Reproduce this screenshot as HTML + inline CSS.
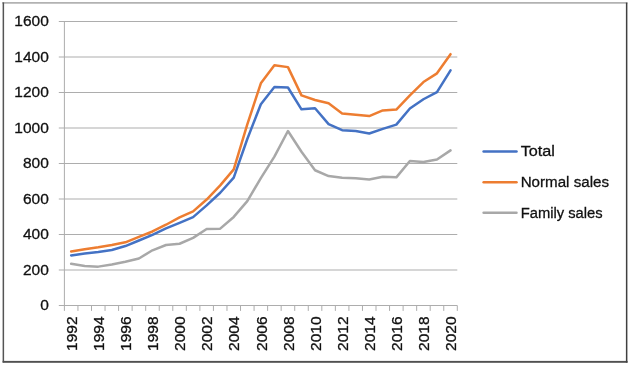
<!DOCTYPE html>
<html><head><meta charset="utf-8"><title>Chart</title>
<style>
html,body{margin:0;padding:0;background:#fff;}
body{width:630px;height:365px;overflow:hidden;}
svg{display:block;}
text{font-family:"Liberation Sans",sans-serif;font-size:15.5px;fill:#111;stroke:#111;stroke-width:0.3px;}
</style></head><body>
<svg width="630" height="365" viewBox="0 0 630 365">
<rect x="0" y="0" width="630" height="365" fill="#fff"/>

<rect x="2.2" y="2.2" width="625.3" height="1.4" fill="#a0a0a0"/>
<rect x="2.6" y="2.4" width="1.5" height="360" fill="#555"/>
<rect x="2.6" y="360.9" width="625" height="1.9" fill="#505050"/>
<rect x="625.9" y="2.6" width="1.5" height="360" fill="#404040"/>
<line x1="58.80" y1="305.50" x2="457.30" y2="305.50" stroke="#adadad" stroke-width="1"/>
<line x1="58.80" y1="270.00" x2="457.30" y2="270.00" stroke="#adadad" stroke-width="1"/>
<line x1="58.80" y1="234.50" x2="457.30" y2="234.50" stroke="#adadad" stroke-width="1"/>
<line x1="58.80" y1="199.00" x2="457.30" y2="199.00" stroke="#adadad" stroke-width="1"/>
<line x1="58.80" y1="163.50" x2="457.30" y2="163.50" stroke="#adadad" stroke-width="1"/>
<line x1="58.80" y1="128.00" x2="457.30" y2="128.00" stroke="#adadad" stroke-width="1"/>
<line x1="58.80" y1="92.50" x2="457.30" y2="92.50" stroke="#adadad" stroke-width="1"/>
<line x1="58.80" y1="57.00" x2="457.30" y2="57.00" stroke="#adadad" stroke-width="1"/>
<line x1="58.80" y1="21.50" x2="457.30" y2="21.50" stroke="#adadad" stroke-width="1"/>
<line x1="64.40" y1="21.50" x2="64.40" y2="305.50" stroke="#adadad" stroke-width="1"/>
<line x1="64.40" y1="305.50" x2="64.40" y2="310.90" stroke="#adadad" stroke-width="1"/>
<line x1="77.95" y1="305.50" x2="77.95" y2="310.90" stroke="#adadad" stroke-width="1"/>
<line x1="91.50" y1="305.50" x2="91.50" y2="310.90" stroke="#adadad" stroke-width="1"/>
<line x1="105.04" y1="305.50" x2="105.04" y2="310.90" stroke="#adadad" stroke-width="1"/>
<line x1="118.59" y1="305.50" x2="118.59" y2="310.90" stroke="#adadad" stroke-width="1"/>
<line x1="132.14" y1="305.50" x2="132.14" y2="310.90" stroke="#adadad" stroke-width="1"/>
<line x1="145.69" y1="305.50" x2="145.69" y2="310.90" stroke="#adadad" stroke-width="1"/>
<line x1="159.24" y1="305.50" x2="159.24" y2="310.90" stroke="#adadad" stroke-width="1"/>
<line x1="172.79" y1="305.50" x2="172.79" y2="310.90" stroke="#adadad" stroke-width="1"/>
<line x1="186.33" y1="305.50" x2="186.33" y2="310.90" stroke="#adadad" stroke-width="1"/>
<line x1="199.88" y1="305.50" x2="199.88" y2="310.90" stroke="#adadad" stroke-width="1"/>
<line x1="213.43" y1="305.50" x2="213.43" y2="310.90" stroke="#adadad" stroke-width="1"/>
<line x1="226.98" y1="305.50" x2="226.98" y2="310.90" stroke="#adadad" stroke-width="1"/>
<line x1="240.53" y1="305.50" x2="240.53" y2="310.90" stroke="#adadad" stroke-width="1"/>
<line x1="254.08" y1="305.50" x2="254.08" y2="310.90" stroke="#adadad" stroke-width="1"/>
<line x1="267.62" y1="305.50" x2="267.62" y2="310.90" stroke="#adadad" stroke-width="1"/>
<line x1="281.17" y1="305.50" x2="281.17" y2="310.90" stroke="#adadad" stroke-width="1"/>
<line x1="294.72" y1="305.50" x2="294.72" y2="310.90" stroke="#adadad" stroke-width="1"/>
<line x1="308.27" y1="305.50" x2="308.27" y2="310.90" stroke="#adadad" stroke-width="1"/>
<line x1="321.82" y1="305.50" x2="321.82" y2="310.90" stroke="#adadad" stroke-width="1"/>
<line x1="335.37" y1="305.50" x2="335.37" y2="310.90" stroke="#adadad" stroke-width="1"/>
<line x1="348.91" y1="305.50" x2="348.91" y2="310.90" stroke="#adadad" stroke-width="1"/>
<line x1="362.46" y1="305.50" x2="362.46" y2="310.90" stroke="#adadad" stroke-width="1"/>
<line x1="376.01" y1="305.50" x2="376.01" y2="310.90" stroke="#adadad" stroke-width="1"/>
<line x1="389.56" y1="305.50" x2="389.56" y2="310.90" stroke="#adadad" stroke-width="1"/>
<line x1="403.11" y1="305.50" x2="403.11" y2="310.90" stroke="#adadad" stroke-width="1"/>
<line x1="416.66" y1="305.50" x2="416.66" y2="310.90" stroke="#adadad" stroke-width="1"/>
<line x1="430.20" y1="305.50" x2="430.20" y2="310.90" stroke="#adadad" stroke-width="1"/>
<line x1="443.75" y1="305.50" x2="443.75" y2="310.90" stroke="#adadad" stroke-width="1"/>
<line x1="457.30" y1="305.50" x2="457.30" y2="310.90" stroke="#adadad" stroke-width="1"/>
<polyline points="71.17,263.79 84.72,266.10 98.27,266.63 111.82,264.50 125.37,261.83 138.92,258.46 152.46,250.30 166.01,244.97 179.56,243.73 193.11,237.87 206.66,229.00 220.21,228.64 233.75,216.93 247.30,201.13 260.85,178.06 274.40,156.58 287.95,131.02 301.49,151.78 315.04,170.25 328.59,176.10 342.14,177.70 355.69,178.23 369.24,179.47 382.78,176.81 396.33,177.34 409.88,161.01 423.43,162.08 436.98,159.59 450.53,150.37" fill="none" stroke="#a8a8a8" stroke-width="2.5" stroke-linejoin="round" stroke-linecap="round"/>
<polyline points="71.17,251.54 84.72,249.23 98.27,247.28 111.82,244.97 125.37,242.31 138.92,236.81 152.46,231.48 166.01,224.74 179.56,217.28 193.11,211.43 206.66,199.53 220.21,185.33 233.75,169.36 247.30,124.45 260.85,83.27 274.40,65.16 287.95,67.12 301.49,95.34 315.04,99.96 328.59,103.33 342.14,113.44 355.69,114.69 369.24,116.11 382.78,110.43 396.33,109.54 409.88,95.34 423.43,82.03 436.98,73.33 450.53,54.16" fill="none" stroke="#ed7d31" stroke-width="2.5" stroke-linejoin="round" stroke-linecap="round"/>
<polyline points="71.17,255.44 84.72,253.49 98.27,251.90 111.82,249.94 125.37,246.04 138.92,240.53 152.46,234.86 166.01,228.47 179.56,222.78 193.11,217.11 206.66,205.39 220.21,192.79 233.75,177.70 247.30,139.00 260.85,104.22 274.40,87.00 287.95,87.53 301.49,109.36 315.04,108.30 328.59,124.09 342.14,130.13 355.69,131.02 369.24,133.50 382.78,128.89 396.33,124.63 409.88,108.47 423.43,99.25 436.98,92.15 450.53,70.31" fill="none" stroke="#4472c4" stroke-width="2.5" stroke-linejoin="round" stroke-linecap="round"/>
<text x="48.8" y="310.10" text-anchor="end">0</text>
<text x="48.8" y="274.60" text-anchor="end">200</text>
<text x="48.8" y="239.10" text-anchor="end">400</text>
<text x="48.8" y="203.60" text-anchor="end">600</text>
<text x="48.8" y="168.10" text-anchor="end">800</text>
<text x="48.8" y="132.60" text-anchor="end">1000</text>
<text x="48.8" y="97.10" text-anchor="end">1200</text>
<text x="48.8" y="61.60" text-anchor="end">1400</text>
<text x="48.8" y="26.10" text-anchor="end">1600</text>
<text transform="translate(76.87,316.5) rotate(-90)" text-anchor="end">1992</text>
<text transform="translate(103.97,316.5) rotate(-90)" text-anchor="end">1994</text>
<text transform="translate(131.07,316.5) rotate(-90)" text-anchor="end">1996</text>
<text transform="translate(158.16,316.5) rotate(-90)" text-anchor="end">1998</text>
<text transform="translate(185.26,316.5) rotate(-90)" text-anchor="end">2000</text>
<text transform="translate(212.36,316.5) rotate(-90)" text-anchor="end">2002</text>
<text transform="translate(239.45,316.5) rotate(-90)" text-anchor="end">2004</text>
<text transform="translate(266.55,316.5) rotate(-90)" text-anchor="end">2006</text>
<text transform="translate(293.65,316.5) rotate(-90)" text-anchor="end">2008</text>
<text transform="translate(320.74,316.5) rotate(-90)" text-anchor="end">2010</text>
<text transform="translate(347.84,316.5) rotate(-90)" text-anchor="end">2012</text>
<text transform="translate(374.94,316.5) rotate(-90)" text-anchor="end">2014</text>
<text transform="translate(402.03,316.5) rotate(-90)" text-anchor="end">2016</text>
<text transform="translate(429.13,316.5) rotate(-90)" text-anchor="end">2018</text>
<text transform="translate(456.23,316.5) rotate(-90)" text-anchor="end">2020</text>
<line x1="483.6" y1="151.4" x2="516.5" y2="151.4" stroke="#4472c4" stroke-width="2.5" stroke-linecap="round"/>
<text x="520.7" y="156.20" textLength="34.3" lengthAdjust="spacingAndGlyphs">Total</text>
<line x1="483.6" y1="182.2" x2="516.5" y2="182.2" stroke="#ed7d31" stroke-width="2.5" stroke-linecap="round"/>
<text x="520.7" y="186.80" textLength="88.3" lengthAdjust="spacingAndGlyphs">Normal sales</text>
<line x1="483.6" y1="212.7" x2="516.5" y2="212.7" stroke="#a8a8a8" stroke-width="2.5" stroke-linecap="round"/>
<text x="520.7" y="217.60" textLength="81.9" lengthAdjust="spacingAndGlyphs">Family sales</text>
</svg></body></html>
